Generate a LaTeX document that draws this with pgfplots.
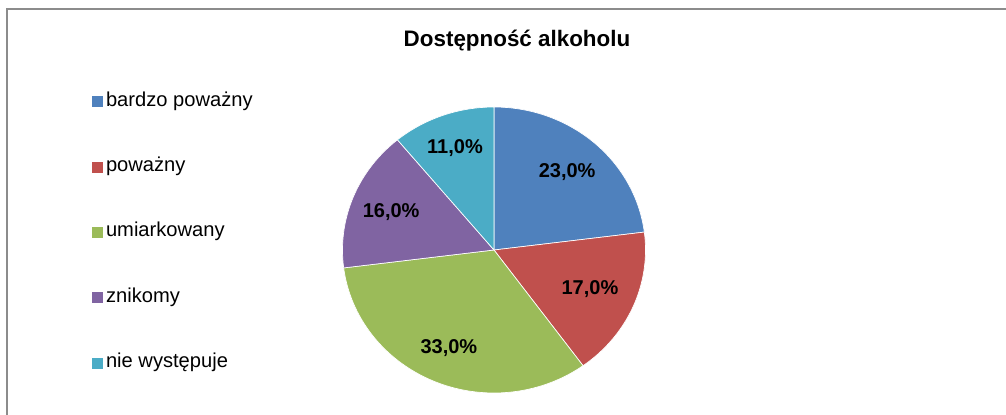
\documentclass[border=0pt]{standalone}
\usepackage{fontspec}
\setmainfont{Liberation Sans}
\usepackage{pgfplots}
\pgfplotsset{compat=1.18}
\definecolor{cBlue}{HTML}{4F81BD}
\definecolor{cRed}{HTML}{C0504D}
\definecolor{cGreen}{HTML}{9BBB59}
\definecolor{cPurple}{HTML}{8064A2}
\definecolor{cCyan}{HTML}{4BACC6}
\definecolor{frameGray}{RGB}{140,140,140}
% data (percent)
\def\vA{23}\def\vB{17}\def\vC{33}\def\vD{16}\def\vE{11}
\pgfmathsetmacro\aA{90}
\pgfmathsetmacro\aB{\aA-3.6*\vA}
\pgfmathsetmacro\aC{\aB-3.6*\vB}
\pgfmathsetmacro\aD{\aC-3.6*\vC}
\pgfmathsetmacro\aE{\aD-3.6*\vD}
\pgfmathsetmacro\aF{\aE-3.6*\vE}
\pgfmathsetmacro\mA{(\aA+\aB)/2}
\pgfmathsetmacro\mB{(\aB+\aC)/2}
\pgfmathsetmacro\mC{(\aC+\aD)/2}
\pgfmathsetmacro\mD{(\aD+\aE)/2}
\pgfmathsetmacro\mE{(\aE+\aF)/2}
\begin{document}
\begin{tikzpicture}
\useasboundingbox (0,0) rectangle (754.5pt,310.5pt);
\draw[frameGray, line width=1.2pt] (5.25pt,-5pt) -- (5.25pt,303.75pt) -- (760pt,303.75pt);
\node[anchor=base, font=\bfseries\fontsize{16.8}{20}\selectfont] at (387.75pt,275.5pt) {Dostępność alkoholu};
\begin{axis}[
  scale only axis, width=227.25pt, height=214.5pt,
  at={(370.5pt,123pt)}, anchor=center,
  xmin=-1, xmax=1, ymin=-1, ymax=1, hide axis, clip=false,
  legend cell align=left,
  legend image code/.code={\fill[#1,draw=none] (0pt,-4.5pt) rectangle (8.25pt,3.75pt);},
  legend style={draw=none, fill=none, inner sep=0pt, outer sep=0pt,
    at={(-0.8277,1.0514)}, anchor=north west,
    font=\fontsize{15.1}{17}\selectfont,
    nodes={inner sep=0pt, text height=10.5pt, text depth=3pt},
    row sep=35.5pt, column sep=2.5pt},
]
\addplot[fill=cBlue, draw=white, line width=0.5pt, domain=\aB:\aA, samples=60] ({cos(x)},{sin(x)}) -- (0,0) -- cycle;
\addplot[fill=cRed, draw=white, line width=0.5pt, domain=\aC:\aB, samples=60] ({cos(x)},{sin(x)}) -- (0,0) -- cycle;
\addplot[fill=cGreen, draw=white, line width=0.5pt, domain=\aD:\aC, samples=80] ({cos(x)},{sin(x)}) -- (0,0) -- cycle;
\addplot[fill=cPurple, draw=white, line width=0.5pt, domain=\aE:\aD, samples=60] ({cos(x)},{sin(x)}) -- (0,0) -- cycle;
\addplot[fill=cCyan, draw=white, line width=0.5pt, domain=\aF:\aE, samples=50] ({cos(x)},{sin(x)}) -- (0,0) -- cycle;
\legend{bardzo poważny, poważny, umiarkowany, znikomy, nie występuje}
\begin{scope}[every node/.style={font=\bfseries\fontsize{15}{17}\selectfont}]
\node at (axis cs:{0.73*cos(\mA)},{0.73*sin(\mA)}) {23,0\%};
\node at (axis cs:{0.69*cos(\mB)},{0.69*sin(\mB)}) {17,0\%};
\node at (axis cs:{0.75*cos(\mC)},{0.75*sin(\mC)}) {33,0\%};
\node at (axis cs:{0.73*cos(\mD)},{0.73*sin(\mD)}) {16,0\%};
\node at (axis cs:{0.76*cos(\mE)},{0.76*sin(\mE)}) {11,0\%};
\end{scope}
\end{axis}
\end{tikzpicture}
\end{document}
